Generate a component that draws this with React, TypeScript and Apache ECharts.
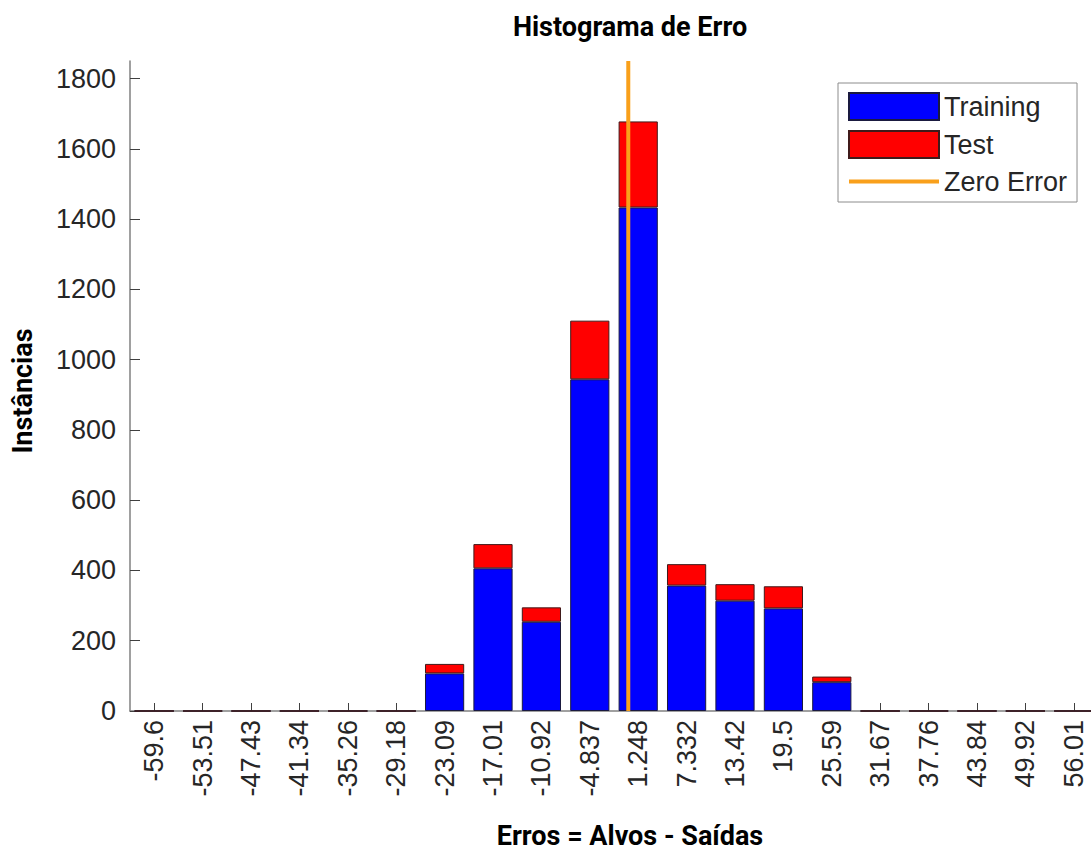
import React, { useEffect, useRef } from "react";
import * as echarts from "echarts";

// Bin centres of the error histogram (x-axis tick labels)
const categories = [
  "-59.6", "-53.51", "-47.43", "-41.34", "-35.26", "-29.18", "-23.09", "-17.01",
  "-10.92", "-4.837", "1.248", "7.332", "13.42", "19.5", "25.59", "31.67",
  "37.76", "43.84", "49.92", "56.01",
];

// Instance counts per bin
const training = [0, 0, 0, 0, 0, 0, 107, 406, 254, 944, 1433, 357, 314, 292, 82, 0, 0, 0, 0, 0];
const test = [0, 0, 0, 0, 0, 0, 27, 69, 41, 167, 245, 61, 47, 63, 16, 0, 0, 0, 0, 0];

const zeroError = 0;
const yTicks = [0, 200, 400, 600, 800, 1000, 1200, 1400, 1600, 1800];
const yMax = 1850;

const LABEL_FONT = "'Liberation Sans', Arial, sans-serif";
const TITLE_FONT = "Roboto, 'Noto Sans', sans-serif";
const ORANGE = "#f9a01b";

export default function App() {
  const ref = useRef<HTMLDivElement>(null);

  useEffect(() => {
    document.body.style.margin = "0";
    if (!ref.current) return;
    const chart = echarts.init(ref.current, undefined, { renderer: "svg" });

    const centers = categories.map(Number);
    const binWidth = (centers[centers.length - 1] - centers[0]) / (centers.length - 1);

    chart.setOption({
      animation: false,
      backgroundColor: "#ffffff",
      grid: {
        left: 130,
        width: 968,
        top: 61,
        bottom: 852 - 711,
        containLabel: false,
        outerBoundsMode: "none",
      },
      legend: {
        orient: "vertical",
        left: 838,
        top: 83,
        padding: [9, 10, 7, 9],
        itemWidth: 90,
        itemHeight: 27,
        itemGap: 9,
        borderColor: "#8c8c8c",
        borderWidth: 1,
        backgroundColor: "#ffffff",
        textStyle: { fontSize: 27, color: "#262626", fontFamily: LABEL_FONT, padding: [0, 0, 0, 0] },
        data: [
          { name: "Training", icon: "rect" },
          { name: "Test", icon: "rect" },
          {
            name: "Zero Error",
            itemStyle: { opacity: 0 },
            lineStyle: { width: 4, color: ORANGE },
          },
        ],
      },
      xAxis: [
        {
          type: "category",
          data: categories,
          boundaryGap: true,
          axisLine: { show: true, onZero: false, lineStyle: { color: "#808080", width: 1.5 } },
          axisTick: { show: true, inside: true, alignWithLabel: true, length: 8, lineStyle: { color: "#404040" } },
          axisLabel: {
            rotate: 90,
            margin: 9,
            fontSize: 27,
            color: "#262626",
            fontFamily: LABEL_FONT,
            interval: 0,
          },
          splitLine: { show: false },
        },
        {
          type: "value",
          show: false,
          min: centers[0] - binWidth / 2,
          max: centers[centers.length - 1] + binWidth / 2,
        },
      ],
      yAxis: {
        type: "value",
        min: 0,
        max: yMax,
        axisLine: { show: true, onZero: false, lineStyle: { color: "#808080", width: 1.5 } },
        axisTick: {
          show: true,
          inside: true,
          length: 10,
          customValues: yTicks,
          lineStyle: { color: "#404040" },
        },
        axisLabel: {
          customValues: yTicks,
          formatter: (v: number) => String(v),
          margin: 14,
          fontSize: 27,
          color: "#262626",
          fontFamily: LABEL_FONT,
        },
        splitLine: { show: false },
      },
      series: [
        {
          name: "Training",
          type: "bar",
          stack: "errors",
          data: training,
          barCategoryGap: "19%",
          itemStyle: { color: "#0000ff", borderColor: "#1a1a40", borderWidth: 1 },
        },
        {
          name: "Test",
          type: "bar",
          stack: "errors",
          data: test,
          itemStyle: { color: "#ff0000", borderColor: "#401a1a", borderWidth: 1 },
        },
        {
          name: "Zero Error",
          type: "line",
          xAxisIndex: 1,
          symbol: "none",
          z: 5,
          data: [
            [zeroError, 0],
            [zeroError, yMax],
          ],
          lineStyle: { color: ORANGE, width: 4 },
          itemStyle: { color: ORANGE },
        },
      ],
      graphic: [
        {
          type: "text",
          x: 630,
          y: 27,
          style: {
            text: "Histograma de Erro",
            textAlign: "center",
            textVerticalAlign: "middle",
            font: `bold 27px ${TITLE_FONT}`,
            fill: "#000000",
          },
        },
        {
          type: "text",
          x: 630,
          y: 836,
          style: {
            text: "Erros = Alvos - Saídas",
            textAlign: "center",
            textVerticalAlign: "middle",
            font: `bold 27px ${TITLE_FONT}`,
            fill: "#000000",
          },
        },
        {
          type: "text",
          x: 23,
          y: 391,
          rotation: Math.PI / 2,
          style: {
            text: "Instâncias",
            textAlign: "center",
            textVerticalAlign: "middle",
            font: `bold 27px ${TITLE_FONT}`,
            fill: "#000000",
          },
        },
      ],
    });

    return () => chart.dispose();
  }, []);

  return <div ref={ref} style={{ width: 1091, height: 852 }} />;
}
